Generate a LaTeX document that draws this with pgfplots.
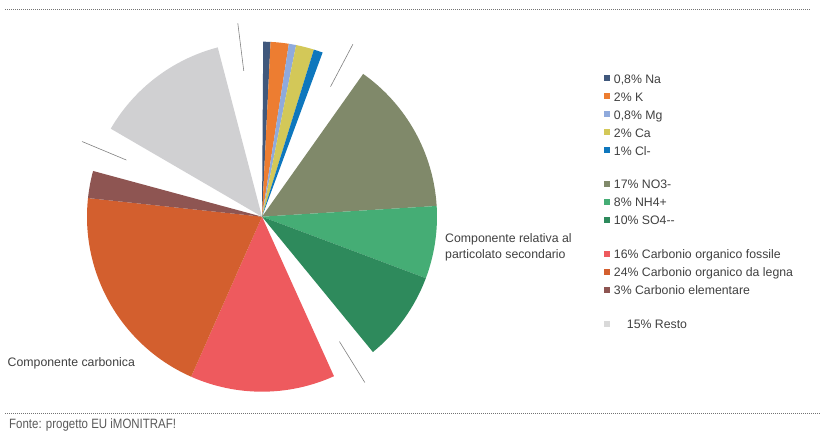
\documentclass[border=0pt]{standalone}
\usepackage{pgfplots}
\pgfplotsset{compat=1.18}
\usepackage{pgfplotstable}
\usepackage{graphicx}
\usepackage{fontspec}
\setmainfont{Liberation Sans}

\definecolor{cNa}{HTML}{40587C}
\definecolor{cK}{HTML}{ED7D31}
\definecolor{cMg}{HTML}{8FAADC}
\definecolor{cCa}{HTML}{D3C858}
\definecolor{cCl}{HTML}{0E77BD}
\definecolor{cNO}{HTML}{80896A}
\definecolor{cNH}{HTML}{45AD75}
\definecolor{cSO}{HTML}{2E8A5C}
\definecolor{cFos}{HTML}{EE5A5E}
\definecolor{cLeg}{HTML}{D35F2E}
\definecolor{cEl}{HTML}{8E5552}
\definecolor{cRes}{HTML}{D0D0D2}
\definecolor{cResL}{HTML}{D9D9D9}
\definecolor{txt}{HTML}{404040}

% share (%) of each component; gap rows are the white spaces between groups
\pgfplotstableread{
v    c     gap
0.8  cNa   0
2    cK    0
0.8  cMg   0
2    cCa   0
1    cCl   0
5    white 1
17   cNO   0
8    cNH   0
10   cSO   0
5    white 1
16   cFos  0
24   cLeg  0
3    cEl   0
5    white 1
15   cRes  0
5    white 1
}\piedata

\pgfplotsset{sq/.style={legend image code/.code={\fill[#1] (0pt,-2.4pt) rectangle (4.8pt,2.4pt);}}}

\begin{document}
\begin{tikzpicture}
\begin{axis}[
  width=822pt, height=444pt, scale only axis,
  xmin=0, xmax=822, ymin=0, ymax=444,
  hide axis, clip=false,
  legend cell align=left,
  legend style={at={(axis description cs:0.7348,0.8372)}, anchor=north west,
    draw=none, fill=none, inner sep=0pt, row sep=7pt, column sep=4.5pt,
    nodes={inner sep=0pt, text height=11pt, text depth=0pt},
    font=\fontsize{12.3}{14}\selectfont, text=txt},
]
\path (axis cs:0,0) rectangle (axis cs:822,444);
\pgfplotstablegetrowsof{\piedata}
\pgfmathtruncatemacro\N{\pgfplotsretval-1}
\def\cum{0}
\def\scl{3.01003}
\def\off{89.6}
\pgfplotsforeachungrouped \i in {0,...,\N}{
  \pgfplotstablegetelem{\i}{v}\of\piedata \let\vv\pgfplotsretval
  \pgfplotstablegetelem{\i}{c}\of\piedata \let\cc\pgfplotsretval
  \pgfplotstablegetelem{\i}{gap}\of\piedata \let\gg\pgfplotsretval
  \pgfmathsetmacro\aone{\off-\cum*\scl}
  \pgfmathsetmacro\cum{\cum+\vv}
  \pgfmathsetmacro\atwo{\off-\cum*\scl}
  \pgfmathsetmacro\amid{(\aone+\atwo)/2}
  \ifnum\gg=0
    \edef\temp{\noexpand\fill[\cc] (axis cs:262,227.3) -- ++(\aone:175pt) arc[start angle=\aone, end angle=\atwo, radius=175pt] -- cycle;}
  \else
    \edef\temp{\noexpand\draw[black!50, line width=0.6pt] (axis cs:262,227.3) ++(\amid:147pt) -- ++(\amid:48pt);}
  \fi
  \temp
}

\addlegendimage{sq=cNa}\addlegendentry{0,8\% Na}
\addlegendimage{sq=cK}\addlegendentry{2\% K}
\addlegendimage{sq=cMg}\addlegendentry{0,8\% Mg}
\addlegendimage{sq=cCa}\addlegendentry{2\% Ca}
\addlegendimage{sq=cCl}\addlegendentry{1\% Cl-}
\addlegendimage{empty legend}\addlegendentry[text height=8.5pt]{\phantom{x}}
\addlegendimage{sq=cNO}\addlegendentry{17\% NO3-}
\addlegendimage{sq=cNH}\addlegendentry{8\% NH4+}
\addlegendimage{sq=cSO}\addlegendentry{10\% SO4-{}-}
\addlegendimage{empty legend}\addlegendentry[text height=9pt]{\phantom{x}}
\addlegendimage{sq=cFos}\addlegendentry{16\% Carbonio organico fossile}
\addlegendimage{sq=cLeg}\addlegendentry{24\% Carbonio organico da legna}
\addlegendimage{sq=cEl}\addlegendentry{3\% Carbonio elementare}
\addlegendimage{empty legend}\addlegendentry[text height=9pt]{\phantom{x}}
\addlegendimage{sq=cResL}\addlegendentry{\hspace{13pt}15\% Resto}

\node[anchor=west, align=left, inner sep=0pt, text=txt, font=\fontsize{12.3}{16}\selectfont] at (axis cs:445,197) {Componente relativa al\\particolato secondario};
\node[anchor=west, inner sep=0pt, text=txt, font=\fontsize{12.3}{14}\selectfont] at (axis cs:7.5,81) {Componente carbonica};
\node[anchor=west, text=black!65, inner sep=0pt] at (axis cs:9,19) {\scalebox{0.85}[1]{\fontsize{13.5}{15}\selectfont Fonte: progetto EU iMONITRAF!}};
\draw[black!55, line width=0.8pt, dash pattern=on 0.8pt off 1.2pt] (axis cs:5,435) -- (axis cs:810,435);
\draw[black!55, line width=0.8pt, dash pattern=on 0.8pt off 1.2pt] (axis cs:5,31) -- (axis cs:820,31);
\end{axis}
\end{tikzpicture}
\end{document}
